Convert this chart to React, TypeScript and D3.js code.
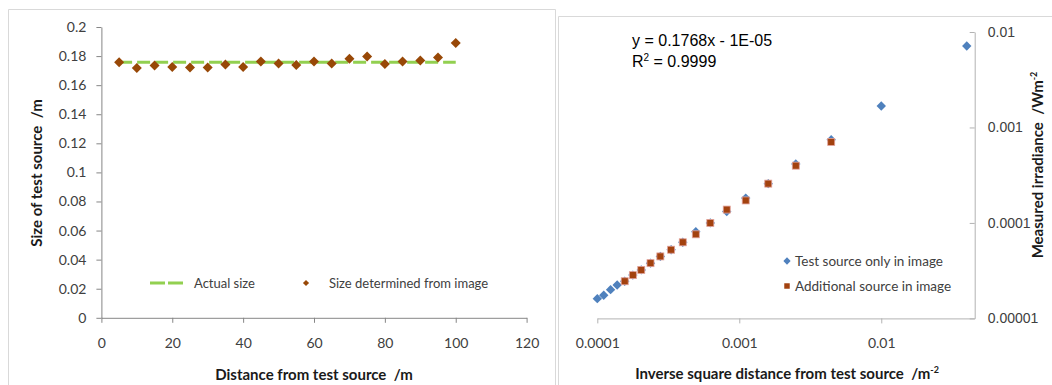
import { axisBottom, axisLeft, axisRight, scaleLinear, scaleLog, select, symbol, symbolDiamond2, symbolSquare } from "d3";
import { useEffect, useRef } from "react";

// left chart: size of test source vs distance
const distances = [5, 10, 15, 20, 25, 30, 35, 40, 45, 50, 55, 60, 65, 70, 75, 80, 85, 90, 95, 100];
const sizeFromImage = [
  0.1758, 0.1718, 0.1735, 0.1725, 0.1721, 0.1721, 0.1742, 0.1725, 0.1763, 0.1749,
  0.1739, 0.1763, 0.1749, 0.1781, 0.1797, 0.1746, 0.1763, 0.177, 0.179, 0.189,
];
const actualSize = 0.1758;
const actualSpan = [5, 100];
const leftXTicks = [0, 20, 40, 60, 80, 100, 120];
const leftYTicks = [0, 0.02, 0.04, 0.06, 0.08, 0.1, 0.12, 0.14, 0.16, 0.18, 0.2];

// right chart: irradiance vs inverse square distance (log-log)
const invSqTestOnly = [
  0.04, 0.01, 0.00444, 0.0025, 0.0016, 0.00111, 0.000816, 0.000625, 0.000494, 0.0004,
  0.000331, 0.000278, 0.000237, 0.000204, 0.000178, 0.000156, 0.000138, 0.000124, 0.000111, 0.0001,
];
const irradianceTestOnly = [
  0.00713, 0.001676, 0.000743, 0.000415, 0.000258, 0.000182, 0.0001315, 0.0001, 0.000081, 0.0000627,
  0.0000524, 0.0000446, 0.0000379, 0.0000322, 0.0000284, 0.0000245, 0.0000224, 0.00002, 0.0000175, 0.0000161,
];
const invSqAdditional = [
  0.00444, 0.0025, 0.0016, 0.00111, 0.000816, 0.000625, 0.000494, 0.0004, 0.000331, 0.000278,
  0.000237, 0.000204, 0.000178, 0.000156,
];
const irradianceAdditional = [
  0.000706, 0.000398, 0.000258, 0.000172, 0.000138, 0.0001, 0.000076, 0.0000627, 0.0000524, 0.0000446,
  0.0000379, 0.0000322, 0.0000284, 0.0000245,
];
const rightXTicks = [0.0001, 0.001, 0.01];
const rightXLabels = ["0.0001", "0.001", "0.01"];
const rightYTicks = [0.00001, 0.0001, 0.001, 0.01];
const rightYLabels = ["0.00001", "0.0001", "0.001", "0.01"];

const CAL = "Lato, 'Open Sans', sans-serif";
const ARIAL = "'Liberation Sans', Arial, sans-serif";

export default function App() {
  const svgRef = useRef<SVGSVGElement | null>(null);

  useEffect(() => {
    if (!svgRef.current) return;
    const svg = select(svgRef.current);
    svg.selectAll("*").remove();

    // panel frames
    svg.append("path").attr("d", "M8.5,390 V9.5 H555.5 V390").attr("fill", "none").attr("stroke", "#d9d9d9");
    svg.append("path").attr("d", "M558.5,390 V16.5 H1060").attr("fill", "none").attr("stroke", "#d9d9d9");

    // ---------- left chart ----------
    const xL = scaleLinear().domain([0, 120]).range([101.4, 526.6]);
    const yL = scaleLinear().domain([0, 0.2]).range([317.8, 27]);

    const yAxisL = svg
      .append("g")
      .attr("transform", `translate(${xL(0)},0)`)
      .call(
        axisLeft(yL)
          .tickValues(leftYTicks)
          .tickSize(5)
          .tickSizeOuter(0)
          .tickPadding(10)
          .tickFormat((v) => String(+Number(v).toFixed(2)))
      );
    const xAxisL = svg
      .append("g")
      .attr("transform", `translate(0,${yL(0)})`)
      .call(axisBottom(xL).tickValues(leftXTicks).tickSize(5).tickSizeOuter(0).tickPadding(15));
    for (const g of [yAxisL, xAxisL]) {
      g.selectAll("path,line").attr("stroke", "#868686");
      g.selectAll("text").attr("font-family", CAL).attr("font-size", 14).attr("fill", "#404040");
    }

    svg
      .append("line")
      .attr("x1", xL(actualSpan[0]))
      .attr("x2", xL(actualSpan[1]))
      .attr("y1", yL(actualSize))
      .attr("y2", yL(actualSize))
      .attr("stroke", "#92d050")
      .attr("stroke-width", 3)
      .attr("stroke-dasharray", "13 5");

    const bigDiamond = symbol().type(symbolDiamond2).size(64)();
    svg
      .append("g")
      .selectAll("path")
      .data(distances)
      .join("path")
      .attr("d", bigDiamond)
      .attr("transform", (d, i) => `translate(${xL(d)},${yL(sizeFromImage[i])})`)
      .attr("fill", "#984807");

    // left legend
    svg
      .append("line")
      .attr("x1", 150)
      .attr("x2", 183)
      .attr("y1", 283)
      .attr("y2", 283)
      .attr("stroke", "#92d050")
      .attr("stroke-width", 3)
      .attr("stroke-dasharray", "15 3");
    svg
      .append("text")
      .attr("x", 194)
      .attr("y", 287.5)
      .attr("font-family", CAL)
      .attr("font-size", 13)
      .attr("fill", "#404040")
      .text("Actual size");
    svg
      .append("path")
      .attr("d", symbol().type(symbolDiamond2).size(24)())
      .attr("transform", "translate(306,283)")
      .attr("fill", "#984807");
    svg
      .append("text")
      .attr("x", 329)
      .attr("y", 287.5)
      .attr("font-family", CAL)
      .attr("font-size", 13)
      .attr("fill", "#404040")
      .text("Size determined from image");

    svg
      .append("text")
      .attr("x", 314)
      .attr("y", 380)
      .attr("text-anchor", "middle")
      .attr("font-family", CAL)
      .attr("font-size", 15)
      .attr("font-weight", "bold")
      .attr("fill", "#1a1a1a")
      .style("white-space", "pre")
      .text("Distance from test source  /m");
    svg
      .append("text")
      .attr("transform", "translate(42,173) rotate(-90)")
      .attr("text-anchor", "middle")
      .attr("font-family", CAL)
      .attr("font-size", 15)
      .attr("font-weight", "bold")
      .attr("fill", "#1a1a1a")
      .style("white-space", "pre")
      .text("Size of test source  /m");

    // ---------- right chart ----------
    const xR = scaleLog().domain([0.0001, 0.0455]).range([597.3, 974.7]);
    const yR = scaleLog().domain([0.00001, 0.01]).range([318.4, 32]);

    const xAxisR = svg
      .append("g")
      .attr("transform", `translate(0,${yR(0.00001)})`)
      .call(
        axisBottom(xR)
          .tickValues(rightXTicks)
          .tickSize(5)
          .tickSizeOuter(0)
          .tickPadding(15)
          .tickFormat((_, i) => rightXLabels[i])
      );
    xAxisR.selectAll("text").attr("font-family", CAL).attr("font-size", 14);
    const yAxisR = svg
      .append("g")
      .attr("transform", `translate(${xR(0.0455)},0)`)
      .call(
        axisRight(yR)
          .tickValues(rightYTicks)
          .tickSize(-5)
          .tickSizeOuter(0)
          .tickPadding(13)
          .tickFormat((_, i) => rightYLabels[i])
      );
    yAxisR.selectAll("text").attr("font-family", ARIAL).attr("font-size", 14);
    for (const g of [xAxisR, yAxisR]) {
      g.selectAll("path,line").attr("stroke", "#b3b3b3");
      g.selectAll("text").attr("fill", "#404040");
    }

    const smallDiamond = symbol().type(symbolDiamond2).size(56)();
    svg
      .append("g")
      .selectAll("path")
      .data(invSqTestOnly)
      .join("path")
      .attr("d", smallDiamond)
      .attr("transform", (d, i) => `translate(${xR(d)},${yR(irradianceTestOnly[i])})`)
      .attr("fill", "#4f81bd");
    svg
      .append("g")
      .selectAll("rect")
      .data(invSqAdditional)
      .join("rect")
      .attr("x", (d) => xR(d) - 3.5)
      .attr("y", (d, i) => yR(irradianceAdditional[i]) - 3.5)
      .attr("width", 7)
      .attr("height", 7)
      .attr("fill", "#a3420f")
      .attr("stroke", "#e3a39b")
      .attr("stroke-width", 0.8);

    // equation
    svg
      .append("text")
      .attr("x", 632)
      .attr("y", 46)
      .attr("font-family", ARIAL)
      .attr("font-size", 16)
      .attr("fill", "#000")
      .text("y = 0.1768x - 1E-05");
    const r2 = svg
      .append("text")
      .attr("x", 632)
      .attr("y", 67)
      .attr("font-family", ARIAL)
      .attr("font-size", 16)
      .attr("fill", "#000");
    r2.append("tspan").text("R");
    r2.append("tspan").attr("font-size", 10).attr("dy", -6).text("2");
    r2.append("tspan").attr("dy", 6).text(" = 0.9999");

    // right legend
    svg
      .append("path")
      .attr("d", symbol().type(symbolDiamond2).size(34)())
      .attr("transform", "translate(787,261)")
      .attr("fill", "#4f81bd");
    svg
      .append("text")
      .attr("x", 795)
      .attr("y", 265.5)
      .attr("font-family", CAL)
      .attr("font-size", 13.5)
      .attr("fill", "#404040")
      .text("Test source only in image");
    svg
      .append("path")
      .attr("d", symbol().type(symbolSquare).size(30)())
      .attr("transform", "translate(787,286)")
      .attr("fill", "#a3420f");
    svg
      .append("text")
      .attr("x", 795)
      .attr("y", 290.5)
      .attr("font-family", CAL)
      .attr("font-size", 13.5)
      .attr("fill", "#404040")
      .text("Additional source in image");

    const xTitle = svg
      .append("text")
      .attr("x", 787)
      .attr("y", 379)
      .attr("text-anchor", "middle")
      .attr("font-family", CAL)
      .attr("font-size", 15)
      .attr("font-weight", "bold")
      .attr("fill", "#1a1a1a")
      .style("white-space", "pre");
    xTitle.append("tspan").text("Inverse square distance from test source  /m");
    xTitle.append("tspan").attr("font-size", 9).attr("dy", -6).text("-2");

    const yTitle = svg
      .append("text")
      .attr("transform", "translate(1043,165) rotate(-90)")
      .attr("text-anchor", "middle")
      .attr("font-family", CAL)
      .attr("font-size", 15)
      .attr("font-weight", "bold")
      .attr("fill", "#1a1a1a")
      .style("white-space", "pre");
    yTitle.append("tspan").text("Measured irradiance  /Wm");
    yTitle.append("tspan").attr("font-size", 9).attr("dy", -6).text("-2");
  }, []);

  return (
    <div style={{ position: "absolute", left: 0, top: 0 }}>
      <svg ref={svgRef} width={1052} height={385} style={{ display: "block", background: "#fff" }} />
    </div>
  );
}
